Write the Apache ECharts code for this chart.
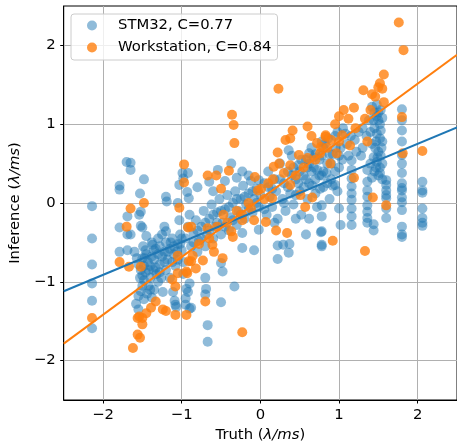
<!DOCTYPE html>
<html>
<head>
<meta charset="utf-8">
<script src="https://cdn.jsdelivr.net/npm/echarts@6/dist/echarts.min.js"></script>
<style>
  html, body { margin: 0; padding: 0; background: #fff; }
  #main { width: 457px; height: 448px; }
</style>
</head>
<body>
<div id="main"></div>
<script>
// tick values shared by both axes
var xTicks = [-2, -1, 0, 1, 2];
var yTicks = [-2, -1, 0, 1, 2];
var seriesNames = ['STM32, C=0.77', 'Workstation, C=0.84'];

// STM32 inference vs truth
var stm32Points = [
  [-2.14,-0.04],[-2.14,-0.45],[-2.14,-0.78],[-2.14,-1.02],[-2.14,-1.24],[-2.14,-1.59],
  [-1.79,0.22],[-1.79,0.17],[-1.79,-0.31],[-1.79,-0.62],
  [-1.70,0.52],[-1.65,0.51],[-1.65,0.42],[-1.69,-0.17],[-1.69,-0.40],[-1.65,-0.40],[-1.69,-0.60],
  [-1.48,0.30],[-1.53,0.12],[-1.52,-0.11],[-1.54,-0.15],[-1.52,-0.29],[-1.50,-0.31],[-1.49,-0.55],[-1.37,-0.53],
  [-1.20,0.08],[-1.19,0.02],[-1.22,-0.30],[-1.20,-0.36],[-1.05,0.00],[-1.03,-0.22],[-0.99,0.38],[-0.98,0.31],
  [-1.03,0.23],[-0.93,0.14],[-0.91,0.06],
  [-1.60,-0.62],[-1.57,-0.70],[-1.55,-0.78],[-1.52,-0.85],[-1.50,-0.92],[-1.48,-0.98],[-1.50,-1.05],
  [-1.52,-1.12],[-1.55,-1.18],[-1.48,-1.22],[-1.58,-1.28],[-1.55,-1.35],[-1.45,-0.65],[-1.43,-0.75],
  [-1.42,-0.85],[-1.40,-0.95],[-1.42,-1.05],[-1.44,-1.15],[-1.38,-1.20],[-1.35,-0.60],[-1.35,-0.72],
  [-1.33,-0.82],[-1.32,-0.90],[-1.30,-1.00],[-1.35,-1.10],[-1.28,-0.55],[-1.25,-0.68],[-1.28,-0.78],
  [-1.22,-0.62],[-1.20,-0.50],[-1.18,-0.72],[-1.15,-0.58],[-1.12,-0.45],[-1.10,-0.65],[-1.08,-0.80],
  [-1.05,-0.52],[-1.02,-0.40],[-1.00,-0.60],[-0.98,-0.75],[-0.95,-1.21],[-0.95,-1.29],[-1.08,-1.29],
  [-1.25,-0.40],[-1.30,-0.45],[-1.38,-0.50],[-1.45,-0.42],[-1.11,-1.13],[-1.24,-1.13],[-1.09,-1.24],
  [-1.07,-1.32],[-0.94,-1.09],[-0.92,-1.13],[-0.90,-1.34],
  [-1.47,-0.70],[-1.46,-0.88],[-1.53,-0.95],[-1.40,-1.10],[-1.48,-0.80],[-1.36,-0.85],[-1.30,-0.65],
  [-1.26,-0.95],[-1.20,-0.85],[-1.15,-0.95],[-1.12,-0.75],[-1.05,-0.72],[-1.00,-0.45],[-0.98,-0.90],
  [-1.50,-0.70],[-1.46,-0.60],[-1.40,-0.80],[-1.38,-0.68],[-1.33,-0.58],[-1.28,-0.88],[-1.22,-0.75],
  [-1.18,-0.62],[-1.14,-0.50],[-1.10,-0.55],[-1.06,-0.62],[-1.02,-0.52],
  [-0.67,-1.55],[-0.67,-1.76],[-0.50,-1.26],[-0.69,-1.09],[-0.70,-1.16],[-0.70,-0.95],[-0.90,-1.02],
  [-0.88,-1.33],[-0.50,-0.76],[-0.48,-0.87],[-0.33,-1.06],[-0.23,-0.57],[-0.08,-0.60],[-0.02,-0.34],[-0.23,-0.38],
  [-0.95,-0.45],[-0.92,-0.30],[-0.90,-0.15],[-0.88,-0.55],[-0.85,-0.38],[-0.82,-0.22],[-0.80,-0.62],
  [-0.78,-0.48],[-0.75,-0.30],[-0.72,-0.10],[-0.70,-0.55],[-0.68,-0.40],[-0.65,-0.20],[-0.62,-0.02],
  [-0.60,-0.45],[-0.58,-0.30],[-0.55,-0.12],[-0.52,0.05],[-0.50,-0.40],[-0.48,-0.25],[-0.45,-0.08],
  [-0.42,0.10],[-0.40,-0.35],[-0.38,-0.18],[-0.35,0.00],[-0.32,0.15],[-0.30,-0.28],[-0.28,-0.10],
  [-0.25,0.05],[-0.22,0.22],[-0.20,-0.20],[-0.18,-0.02],[-0.15,0.12],[-0.12,0.28],[-0.10,-0.12],
  [-0.08,0.05],[-0.05,0.18],[-0.02,-0.05],[0.00,0.10],
  [-0.85,-0.50],[-0.80,-0.35],[-0.75,-0.45],[-0.70,-0.25],[-0.65,-0.35],[-0.60,-0.15],[-0.55,-0.25],
  [-0.50,-0.10],[-0.45,-0.30],[-0.40,-0.05],[-0.35,-0.22],[-0.30,0.05],[-0.25,-0.15],[-0.20,0.08],
  [-0.15,-0.08],[-0.10,0.15],[-0.05,0.00],
  [-0.37,0.50],[-0.54,0.42],[-0.23,0.40],[-0.65,0.27],[-0.92,0.38],[-0.02,0.29],[-0.80,0.20],
  [-0.60,0.15],[-0.45,0.28],[-0.30,0.32],[-0.15,0.35],
  [0.05,0.25],[0.08,-0.15],[0.10,0.40],[0.12,0.08],[0.15,-0.05],[0.18,0.30],[0.20,0.15],[0.22,-0.20],
  [0.25,0.50],[0.28,0.05],[0.30,0.25],[0.32,-0.10],[0.35,0.40],[0.38,0.12],[0.40,0.60],[0.42,-0.02],
  [0.45,0.30],[0.48,0.48],[0.50,0.15],[0.52,-0.15],[0.55,0.35],[0.58,0.55],[0.60,0.05],[0.62,0.25],
  [0.65,0.70],[0.68,0.45],[0.70,0.12],[0.72,-0.05],[0.75,0.35],[0.78,0.60],[0.80,0.20],[0.82,0.75],
  [0.85,0.50],[0.88,0.05],[0.90,0.30],[0.92,0.62],[0.95,0.85],[0.98,0.15],[1.00,0.45],[1.02,0.70],[1.05,0.95],
  [0.22,-0.54],[0.22,-0.71],[0.36,-0.63],[0.37,-0.52],[0.58,-0.40],[0.78,-0.55],[0.77,-0.37],[0.29,-0.53],
  [0.36,0.67],[0.62,0.63],
  [0.10,0.20],[0.25,0.30],[0.35,0.20],[0.45,0.10],[0.50,0.40],[0.55,0.20],[0.65,0.40],[0.70,0.30],
  [0.75,0.55],[0.80,0.40],[0.85,0.25],[0.90,0.50],[0.95,0.40],[0.60,0.45],[0.40,0.35],[0.30,0.00],
  [0.15,0.18],[0.05,-0.08],[0.18,-0.25],[0.45,-0.20],[0.62,-0.20],
  [0.42,0.45],[0.48,0.25],[0.52,0.55],[0.58,0.30],[0.62,0.50],[0.66,0.22],[0.70,0.62],[0.72,0.42],
  [0.76,0.18],[0.80,0.70],[0.84,0.38],[0.88,0.62],[0.92,0.22],[0.96,0.70],[1.00,0.60],[0.68,0.58],
  [0.78,0.78],[0.86,0.82],[0.98,0.90],[1.04,0.55],
  [0.78,0.35],[0.78,-0.03],[0.78,-0.17],[0.78,-0.36],[0.78,-0.53],[0.95,0.23],[1.00,-0.07],[1.02,-0.28],
  [1.16,0.54],[1.16,0.42],[1.16,0.31],[1.16,0.21],[1.16,0.12],[1.16,0.04],[1.16,-0.07],[1.16,-0.17],[1.16,-0.28],
  [1.36,0.42],[1.36,0.27],[1.36,0.16],[1.36,0.08],[1.36,-0.03],[1.36,-0.11],[1.36,-0.19],[1.36,-0.25],
  [1.44,-0.27],[1.44,-0.35],
  [1.60,0.29],[1.60,0.23],[1.60,0.16],[1.60,0.10],[1.60,0.06],[1.60,-0.07],[1.60,-0.19],
  [1.80,1.19],[1.80,1.05],[1.80,0.92],[1.80,0.78],[1.80,0.61],[1.80,0.50],[1.80,0.38],[1.80,0.25],
  [1.80,0.19],[1.80,0.16],[1.80,0.07],[1.80,0.01],[1.80,-0.09],[1.80,-0.30],[1.80,-0.40],[1.80,-0.43],
  [2.06,0.27],[2.06,0.16],[2.06,0.13],[2.06,-0.07],[2.06,-0.19],[2.06,-0.25],[2.06,-0.29],
  [1.42,1.22],[1.45,1.15],[1.48,1.10],[1.50,1.05],[1.52,1.00],[1.45,0.95],[1.40,0.90],[1.48,0.88],
  [1.52,0.82],[1.55,0.78],[1.42,0.75],[1.46,0.70],[1.50,0.65],[1.53,0.60],[1.44,0.58],[1.48,0.52],
  [1.40,0.50],[1.52,0.45],[1.45,0.40],[1.50,0.35],[1.55,0.30],[1.42,0.32],[1.48,1.25],[1.53,1.18],
  [1.38,1.05],[1.35,0.85],[1.30,0.70],[1.25,0.90],[1.20,0.80],[1.28,0.60],[1.15,0.85],[1.10,0.75],
  [1.22,0.65],[1.30,0.95],[1.12,0.60],[1.08,0.88],
  [1.50,1.15],[1.53,0.92],[1.47,0.78],[1.54,0.70],[1.49,0.58],[1.55,0.50],[1.47,0.45],[1.52,0.38],
  [1.44,1.05],[1.55,1.08]
];

// Workstation inference vs truth
var workstationPoints = [
  [-2.14,-1.46],[-1.79,-0.75],[-1.67,-0.81],[-1.52,-0.81],[-1.62,-1.84],[-1.53,-1.71],[-1.56,-1.67],
  [-1.50,-1.54],[-1.56,-1.46],[-1.50,-1.46],[-1.54,-1.44],[-1.45,-1.40],[-1.39,-1.33],[-1.33,-1.25],
  [-1.24,-1.35],[-1.20,-1.37],[-1.08,-1.42],[-0.94,-1.42],[-1.12,-0.97],[-1.08,-1.06],[-1.05,-0.89],
  [-0.93,-0.89],[-1.05,-0.67],[-0.91,-0.74],[-0.70,-1.25],[-0.86,-0.67],[-0.73,-0.73],[-0.88,-0.74],
  [-0.82,-0.83],[-0.94,-0.87],[-0.59,-0.62],[-0.48,-0.70],[-0.61,-0.53],[-0.37,-0.36],[-0.35,-0.43],
  [-0.67,-0.32],[-0.88,-0.30],[-0.92,-0.31],[-0.97,0.49],[-0.97,0.26],[-1.48,0.00],[-1.65,-0.07],
  [-1.70,-0.30],[-1.03,-0.06],[-0.67,0.35],[-0.56,0.35],[-0.50,0.18],[-0.40,0.41],[-0.36,1.12],
  [-0.34,0.99],[-0.33,0.76],[-0.23,-1.64],[-0.47,-0.15],[-0.23,-0.15],[-0.08,-0.22],[-0.23,-0.22],
  [0.07,-0.24],[-0.12,-0.07],[0.20,-0.35],[0.34,-0.38],[0.15,0.06],[0.01,0.18],[-0.03,0.16],
  [-0.07,0.33],[0.16,0.30],[0.30,0.38],[0.24,0.50],[0.38,0.48],[0.38,0.23],[0.51,0.10],[0.66,0.07],
  [0.57,-0.05],[0.22,0.64],[0.17,0.46],[0.49,0.61],[0.60,0.57],[0.32,0.80],[0.38,0.82],[0.41,0.92],
  [0.60,0.97],[0.72,0.76],[0.77,0.71],[0.76,0.63],[0.23,1.45],[0.83,0.86],[0.83,0.84],[0.89,0.50],
  [0.97,0.63],[1.14,0.73],[1.36,0.78],[1.19,0.32],[1.43,0.07],[1.60,-0.03],[0.92,-0.48],[1.33,-0.61],
  [1.81,0.63],[2.06,0.66],[0.95,1.00],[1.00,1.10],[1.04,0.86],[1.06,1.18],[1.12,1.07],[1.19,1.21],
  [1.21,0.95],[1.33,1.07],[1.40,1.18],[1.31,1.43],[1.42,1.38],[1.46,1.35],[1.50,1.47],[1.55,1.45],
  [1.52,1.52],[1.57,1.63],[1.57,1.28],[1.76,2.29],[1.82,1.94],[1.80,1.09],
  [-0.78,-0.52],[-0.65,-0.45],[-0.55,-0.30],[-0.42,-0.25],[-0.30,-0.10],[-0.15,0.00],[0.05,0.05],
  [0.10,0.25],[0.45,0.35],[0.55,0.45],[0.70,0.55],[0.85,0.70],[0.65,0.85],[0.90,0.80],[1.00,0.78]
];

// fitted lines, end points at the x-axis limits
var stm32Fit = [[-2.5, -1.12], [2.5, 0.96]];
var workstationFit = [[-2.5, -1.785], [2.5, 1.88]];

var blue = '#1f77b4';
var orange = '#ff7f0e';
var font = 'DejaVu Sans';

function tickText(v) {
  return String(v).replace('-', '\u2212');
}

var myChart = echarts.init(document.getElementById('main'));

myChart.setOption({
  animation: false,
  textStyle: { fontFamily: font },
  grid: {
    left: 63, top: 6, right: -3, bottom: 46,
    show: true, borderColor: '#000', borderWidth: 1, backgroundColor: 'transparent'
  },
  legend: {
    data: seriesNames,
    orient: 'vertical',
    left: 71, top: 14,
    z: 10,
    icon: 'circle',
    itemWidth: 10, itemHeight: 10,
    itemGap: 7,
    padding: [4, 6, 5, 16],
    backgroundColor: 'rgba(255,255,255,0.8)',
    borderColor: '#cccccc', borderWidth: 1, borderRadius: 3,
    textStyle: { fontFamily: font, fontSize: 14.8, color: '#000', padding: [0, 0, 0, 16] }
  },
  xAxis: {
    type: 'value',
    min: -2.5, max: 2.5,
    name: '{n|Truth (}{i|λ/ms}{n|)}',
    nameLocation: 'middle',
    nameGap: 28,
    nameTextStyle: {
      rich: {
        n: { fontFamily: font, fontSize: 14.8, color: '#000' },
        i: { fontFamily: font, fontSize: 14.8, color: '#000', fontStyle: 'italic' }
      }
    },
    axisLine: { show: true, onZero: false, lineStyle: { color: '#000', width: 1 } },
    axisTick: { show: true, length: 3.5, customValues: xTicks, lineStyle: { color: '#000' } },
    axisLabel: {
      customValues: xTicks, margin: 8, fontSize: 14.8, color: '#000', fontFamily: font,
      formatter: tickText
    },
    splitLine: { show: true, lineStyle: { color: '#b0b0b0', width: 1 } }
  },
  yAxis: {
    type: 'value',
    min: -2.5, max: 2.5,
    name: '{n|Inference (}{i|λ/ms}{n|)}',
    nameLocation: 'middle',
    nameGap: 35,
    nameTextStyle: {
      rich: {
        n: { fontFamily: font, fontSize: 14.8, color: '#000' },
        i: { fontFamily: font, fontSize: 14.8, color: '#000', fontStyle: 'italic' }
      }
    },
    axisLine: { show: true, onZero: false, lineStyle: { color: '#000', width: 1 } },
    axisTick: { show: true, length: 3.5, customValues: yTicks, lineStyle: { color: '#000' } },
    axisLabel: {
      customValues: yTicks, margin: 8, fontSize: 14.8, color: '#000', fontFamily: font,
      formatter: tickText
    },
    splitLine: { show: true, lineStyle: { color: '#b0b0b0', width: 1 } }
  },
  series: [
    {
      name: seriesNames[0],
      type: 'scatter',
      data: stm32Points,
      symbolSize: 10,
      itemStyle: { color: blue, opacity: 0.5 }
    },
    {
      name: 'stm32 fit',
      type: 'line',
      data: stm32Fit,
      showSymbol: false,
      symbol: 'none',
      silent: true,
      lineStyle: { color: blue, width: 2 }
    },
    {
      name: seriesNames[1],
      type: 'scatter',
      data: workstationPoints,
      symbolSize: 10,
      itemStyle: { color: orange, opacity: 0.8 }
    },
    {
      name: 'workstation fit',
      type: 'line',
      data: workstationFit,
      showSymbol: false,
      symbol: 'none',
      silent: true,
      lineStyle: { color: orange, width: 2 }
    }
  ]
});
</script>
</body>
</html>
